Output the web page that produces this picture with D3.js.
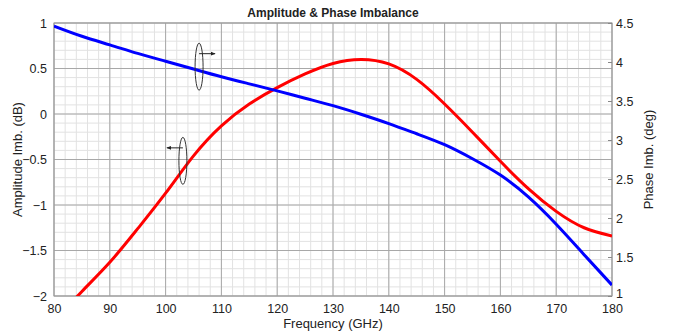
<!DOCTYPE html>
<html>
<head>
<meta charset="utf-8">
<script src="https://cdn.jsdelivr.net/npm/d3@7"></script>
<style>
  body { margin: 0; background: #fff; }
  text { font-family: "Liberation Sans", Arial, sans-serif; fill: #222; }
</style>
</head>
<body>
<div id="root"></div>
<script>
// values
const freq = [80, 85, 90, 95, 100, 105, 110, 115, 120, 125, 130, 135, 140, 145, 150, 155, 160, 165, 170, 175, 180];
const ampImb = [-2.28, -1.95, -1.63, -1.26, -0.87, -0.46, -0.13, 0.11, 0.29, 0.44, 0.555, 0.60, 0.55, 0.38, 0.11, -0.20, -0.52, -0.82, -1.07, -1.25, -1.34];
const phaseImb = [4.46, 4.33, 4.22, 4.11, 4.01, 3.91, 3.81, 3.72, 3.63, 3.535, 3.44, 3.33, 3.21, 3.08, 2.94, 2.76, 2.55, 2.27, 1.92, 1.53, 1.14];

const xTicks = [80, 90, 100, 110, 120, 130, 140, 150, 160, 170, 180];
const leftTicks = [-2, -1.5, -1, -0.5, 0, 0.5, 1];
const rightTicks = [1, 1.5, 2, 2.5, 3, 3.5, 4, 4.5];

const W = 676, H = 333;
const m = {left: 54, right: 64, top: 23, bottom: 37};

const svg = d3.select('#root').append('svg')
  .attr('width', W).attr('height', H);

const x = d3.scaleLinear().domain([80, 180]).range([m.left, W - m.right]);
const yL = d3.scaleLinear().domain([-2, 1]).range([H - m.bottom, m.top]);
const yR = d3.scaleLinear().domain([1, 4.5]).range([H - m.bottom, m.top]);

const x0 = x.range()[0], x1 = x.range()[1];
const y0 = yL.range()[0], y1 = yL.range()[1];

// minor grid
const g = svg.append('g');
g.selectAll('.vmin').data(d3.range(80, 180.01, 2)).enter().append('line')
  .attr('x1', d => x(d)).attr('x2', d => x(d)).attr('y1', y0).attr('y2', y1)
  .attr('stroke', '#e2e2e2').attr('stroke-width', 1);
g.selectAll('.hmin').data(d3.range(-2, 1.001, 0.1)).enter().append('line')
  .attr('x1', x0).attr('x2', x1).attr('y1', d => yL(d)).attr('y2', d => yL(d))
  .attr('stroke', '#e2e2e2').attr('stroke-width', 1);
// major grid
g.selectAll('.vmaj').data(xTicks).enter().append('line')
  .attr('x1', d => x(d)).attr('x2', d => x(d)).attr('y1', y0).attr('y2', y1)
  .attr('stroke', '#a8a8a8').attr('stroke-width', 1);
g.selectAll('.hmaj').data(leftTicks).enter().append('line')
  .attr('x1', x0).attr('x2', x1).attr('y1', d => yL(d)).attr('y2', d => yL(d))
  .attr('stroke', '#a8a8a8').attr('stroke-width', 1);

// frame
svg.append('rect').attr('x', x0).attr('y', y1).attr('width', x1 - x0).attr('height', y0 - y1)
  .attr('fill', 'none').attr('stroke', '#999').attr('stroke-width', 1);

// axes
const axB = svg.append('g').attr('transform', `translate(0,${y0})`)
  .call(d3.axisBottom(x).tickValues(xTicks).tickSize(0).tickPadding(8));
const axL = svg.append('g').attr('transform', `translate(${x0},0)`)
  .call(d3.axisLeft(yL).tickValues(leftTicks).tickSize(0).tickPadding(7).tickFormat(d3.format('')));
const axR = svg.append('g').attr('transform', `translate(${x1},0)`)
  .call(d3.axisRight(yR).tickValues(rightTicks).tickSize(-4).tickPadding(4).tickFormat(d3.format('')));
[axB, axL, axR].forEach(a => {
  a.select('.domain').remove();
  a.selectAll('text').style('font-size', '12.5px').attr('fill', '#222');
  a.selectAll('line').attr('stroke', '#888');
});
// the lowest right label sits just above the corner, as in the reference
axR.selectAll('text').filter(d => d === 1).attr('dy', '0.1em');

// clip
svg.append('clipPath').attr('id', 'clip').append('rect')
  .attr('x', x0).attr('y', y1).attr('width', x1 - x0).attr('height', y0 - y1);

const rows = freq.map((f, i) => ({f, a: ampImb[i], p: phaseImb[i]}));

svg.append('path').datum(rows)
  .attr('clip-path', 'url(#clip)')
  .attr('fill', 'none').attr('stroke', '#ff0000').attr('stroke-width', 3)
  .attr('d', d3.line().x(d => x(d.f)).y(d => yL(d.a)).curve(d3.curveNatural));

svg.append('path').datum(rows)
  .attr('clip-path', 'url(#clip)')
  .attr('fill', 'none').attr('stroke', '#0000ff').attr('stroke-width', 3)
  .attr('d', d3.line().x(d => x(d.f)).y(d => yR(d.p)).curve(d3.curveNatural));

// annotation ellipses with arrows
svg.append('defs').append('marker').attr('id', 'arr')
  .attr('viewBox', '0 0 10 10').attr('refX', 9).attr('refY', 5)
  .attr('markerWidth', 5).attr('markerHeight', 5).attr('orient', 'auto')
  .append('path').attr('d', 'M0,1L10,5L0,9Z').attr('fill', '#222');

const notes = [
  {cx: x(106), cy: yR(3.94), dir: 1},
  {cx: x(103.1), cy: yL(-0.515), dir: -1}
];
notes.forEach(n => {
  svg.append('ellipse').attr('cx', n.cx).attr('cy', n.cy).attr('rx', 4).attr('ry', 23.5)
    .attr('fill', 'none').attr('stroke', '#333').attr('stroke-width', 1);
  svg.append('line').attr('x1', n.cx).attr('y1', n.cy - 13)
    .attr('x2', n.cx + n.dir * 16).attr('y2', n.cy - 13)
    .attr('stroke', '#222').attr('stroke-width', 1).attr('marker-end', 'url(#arr)');
});

// labels
svg.append('text').attr('x', (x0 + x1) / 2).attr('y', 17).attr('text-anchor', 'middle')
  .style('font-size', '12px').style('font-weight', 'bold').attr('fill', '#111')
  .text('Amplitude & Phase Imbalance');
svg.append('text').attr('x', (x0 + x1) / 2).attr('y', 328).attr('text-anchor', 'middle')
  .style('font-size', '13px').text('Frequency (GHz)');
svg.append('text').attr('transform', `translate(22,${(y0 + y1) / 2}) rotate(-90)`)
  .attr('text-anchor', 'middle').style('font-size', '13px').text('Amplitude Imb. (dB)');
svg.append('text').attr('transform', `translate(653,${(y0 + y1) / 2}) rotate(-90)`)
  .attr('text-anchor', 'middle').style('font-size', '13px').text('Phase Imb. (deg)');
</script>
</body>
</html>
